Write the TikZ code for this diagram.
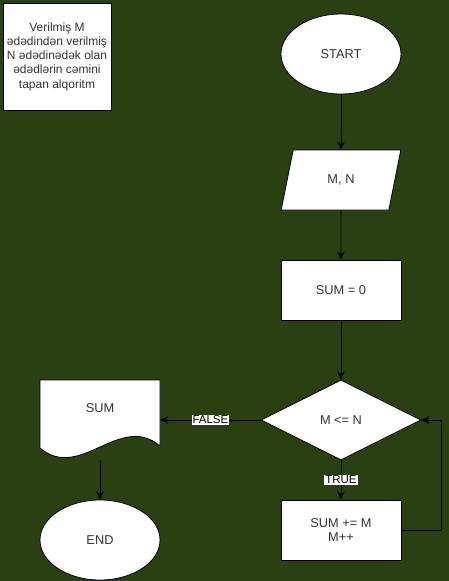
\documentclass[tikz,border=0pt]{standalone}
\usepackage{fontspec}
\setmainfont{Liberation Sans}
\usetikzlibrary{shapes.geometric,arrows.meta}
\definecolor{bggreen}{RGB}{42,64,19}
\definecolor{txtgray}{RGB}{51,51,51}

\begin{document}
\begin{tikzpicture}[x=1pt, y=-1pt,
    box/.style={draw, fill=white, line width=0.8pt, text=txtgray, font=\fontsize{12.8}{14.2}\selectfont, align=center, inner sep=0pt},
    term/.style={box, ellipse, minimum width=120pt, minimum height=80pt},
    proc/.style={box, rectangle, minimum width=120pt, minimum height=60pt},
    io/.style={box, trapezium, trapezium left angle=72, trapezium right angle=108, trapezium stretches=true, minimum width=120pt, minimum height=60pt},
    cond/.style={box, diamond, aspect=2, minimum width=160pt, minimum height=80pt},
    flow/.style={-{Stealth[length=8pt,width=7.5pt,inset=2.5pt]}, line width=0.8pt},
    tag/.style={fill=white, inner sep=1pt, font=\fontsize{11.5}{13}\selectfont}]
    \fill[bggreen] (0,0) rectangle (449,581);
    \useasboundingbox (0,0) rectangle (449,581);

    \node[box, minimum width=108pt, minimum height=107pt, font=\fontsize{12}{14.2}\selectfont] (note) at (57,56.5)
        {Verilmiş M\\ədədindən verilmiş\\N ədədinədək olan\\ədədlərin cəmini\\tapan alqoritm};

    \node[term] (start) at (341,54) {START};
    \node[io] (input) at (341,180) {M, N};
    \node[proc] (init) at (341,290) {SUM = 0};
    \node[cond] (test) at (341,420) {M <= N};
    \node[proc] (step) at (341,530) {SUM += M\\M++};
    \node[term] (stop) at (100,540) {END};

    % output document
    \draw[fill=white, line width=0.8pt] (40,380) -- (160,380) -- (160,446)
        .. controls (120,412) and (80,482) .. (40,448) -- cycle;
    \node[text=txtgray, font=\fontsize{12.8}{14.2}\selectfont, minimum width=120pt, inner sep=0pt] (out) at (100,408) {SUM};
    \coordinate (outbot) at (100,460);

    \draw[flow] (start) -- (input);
    \draw[flow] (input) -- (init);
    \draw[flow] (init) -- (test);
    \draw[flow] (test) -- node[tag] {TRUE} (step);
    \draw[flow] (test.west) -- node[tag] {FALSE} (test.west -| out.east);
    \draw[flow] (step.east) -- ++(40,0) |- (test.east);
    \draw[flow] (outbot) -- (stop);
\end{tikzpicture}
\end{document}
